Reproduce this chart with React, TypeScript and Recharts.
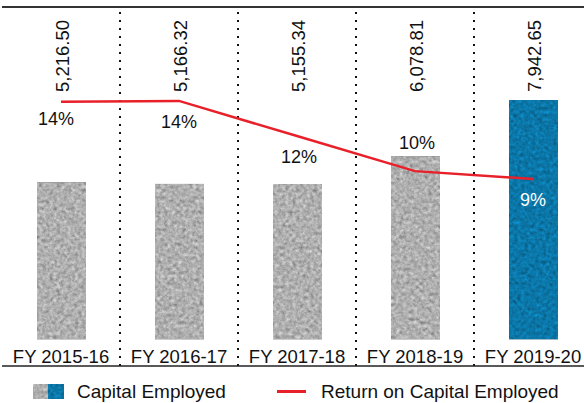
import { ComposedChart, Bar, Line, XAxis, YAxis, ReferenceLine, LabelList, Legend, Cell } from 'recharts';

const years = ['FY 2015-16', 'FY 2016-17', 'FY 2017-18', 'FY 2018-19', 'FY 2019-20'];
const capitalEmployed = [5216.5, 5166.32, 5155.34, 6078.81, 7942.65];
const capitalLabels = ['5,216.50', '5,166.32', '5,155.34', '6,078.81', '7,942.65'];
const roce = [14.25, 14.3, 12.05, 9.8, 9.3];
const roceLabels = ['14%', '14%', '12%', '10%', '9%'];

const data = years.map((year, i) => ({
  year,
  capital: capitalEmployed[i],
  capitalLabel: capitalLabels[i],
  roce: roce[i],
  roceLabel: roceLabels[i],
}));

const W = 592;
const H = 403;
const TOP = 7;
const LEGEND_H = 37;
const FONT = '"Liberation Sans", Arial, Helvetica, sans-serif';
const GRAY = '#b0b0b0';
const BLUE = '#0b77a9';
const RED = '#e8202a';

// per-label nudges for the ROCE percentages (dx, dy from the point)
const roceOffset = [
  { dx: -5, dy: 17, fill: '#111' },
  { dx: 0, dy: 21, fill: '#111' },
  { dx: 2, dy: 21, fill: '#111' },
  { dx: 2, dy: -28, fill: '#111' },
  { dx: 0, dy: 21, fill: '#fff' },
];

const ValueLabel = (props: any) => {
  const { x, width, index } = props;
  const cx = x + width / 2 + 1;
  return (
    <text
      transform={`translate(${cx},${TOP + 13}) rotate(-90)`}
      textAnchor="end"
      dominantBaseline="central"
      fontSize={18.5}
      fontFamily={FONT}
      fill="#111"
    >
      {capitalLabels[index]}
    </text>
  );
};

const RoceLabel = (props: any) => {
  const { x, y, index } = props;
  const o = roceOffset[index];
  return (
    <text
      x={x + o.dx}
      y={y + o.dy}
      textAnchor="middle"
      dominantBaseline="central"
      fontSize={18}
      fontFamily={FONT}
      fill={o.fill}
    >
      {roceLabels[index]}
    </text>
  );
};

const LegendContent = () => (
  <div style={{ position: 'relative', width: 584, height: LEGEND_H, fontFamily: FONT, fontSize: 19, lineHeight: '19px', color: '#111' }}>
    <svg width={31} height={15} style={{ position: 'absolute', left: 33, top: 18 }}>
      <rect x={0} y={0} width={15} height={15} fill={GRAY} filter="url(#grain)" />
      <rect x={15} y={0} width={16} height={15} fill={BLUE} filter="url(#grain)" />
    </svg>
    <span style={{ position: 'absolute', left: 77, top: 16, whiteSpace: 'nowrap' }}>Capital Employed</span>
    <div style={{ position: 'absolute', left: 277, top: 24, width: 29, height: 3, background: RED }} />
    <span style={{ position: 'absolute', left: 321, top: 16, whiteSpace: 'nowrap' }}>Return on Capital Employed</span>
  </div>
);

export default function App() {
  return (
    <div style={{ position: 'fixed', left: 0, top: 0, width: 584, height: 403, overflow: 'hidden', background: '#fff' }}>
      <ComposedChart width={W} height={H} data={data} margin={{ top: TOP, right: 0, bottom: 0, left: 2 }}>
        <defs>
          <filter id="grain" x="0" y="0" width="100%" height="100%" colorInterpolationFilters="sRGB">
            <feTurbulence type="fractalNoise" baseFrequency="0.28" numOctaves={3} seed={4} result="t" />
            <feColorMatrix
              in="t"
              type="matrix"
              values="0.33 0.33 0.33 0 0  0.33 0.33 0.33 0 0  0.33 0.33 0.33 0 0  0 0 0 0 1"
              result="g"
            />
            <feComposite in="SourceGraphic" in2="g" operator="arithmetic" k1={1.0} k2={0.5} k3={0} k4={0} result="m" />
            <feComposite in="m" in2="SourceGraphic" operator="in" />
          </filter>
        </defs>
        <XAxis
          dataKey="year"
          mirror
          tickLine={false}
          tickSize={0}
          tickMargin={3}
          axisLine={{ stroke: '#222', strokeWidth: 1.5 }}
          tick={{ fontSize: 18.5, fontFamily: FONT, fill: '#111' }}
          interval={0}
        />
        <YAxis yAxisId="left" domain={[-879, 11028]} hide />
        <YAxis yAxisId="right" orientation="right" domain={[-2.69, 20.32]} hide />
        <ReferenceLine yAxisId="left" y={11028} stroke="#333" strokeWidth={2} />
        {years.slice(1).map((y) => (
          <ReferenceLine
            key={y}
            yAxisId="left"
            x={y}
            position="start"
            stroke="#111"
            strokeWidth={2}
            strokeDasharray="2 6"
          />
        ))}
        <Bar yAxisId="left" dataKey="capital" barSize={49} isAnimationActive={false}>
          {data.map((d, i) => (
            <Cell key={d.year} fill={i === data.length - 1 ? BLUE : GRAY} filter="url(#grain)" />
          ))}
          <LabelList dataKey="capitalLabel" content={ValueLabel} />
        </Bar>
        <Line
          yAxisId="right"
          dataKey="roce"
          stroke={RED}
          strokeWidth={2.5}
          dot={false}
          activeDot={false}
          isAnimationActive={false}
        >
          <LabelList dataKey="roceLabel" content={RoceLabel} />
        </Line>
        <Legend verticalAlign="bottom" content={LegendContent} wrapperStyle={{ left: 0, bottom: 0, width: 584, height: LEGEND_H }} />
      </ComposedChart>
    </div>
  );
}
